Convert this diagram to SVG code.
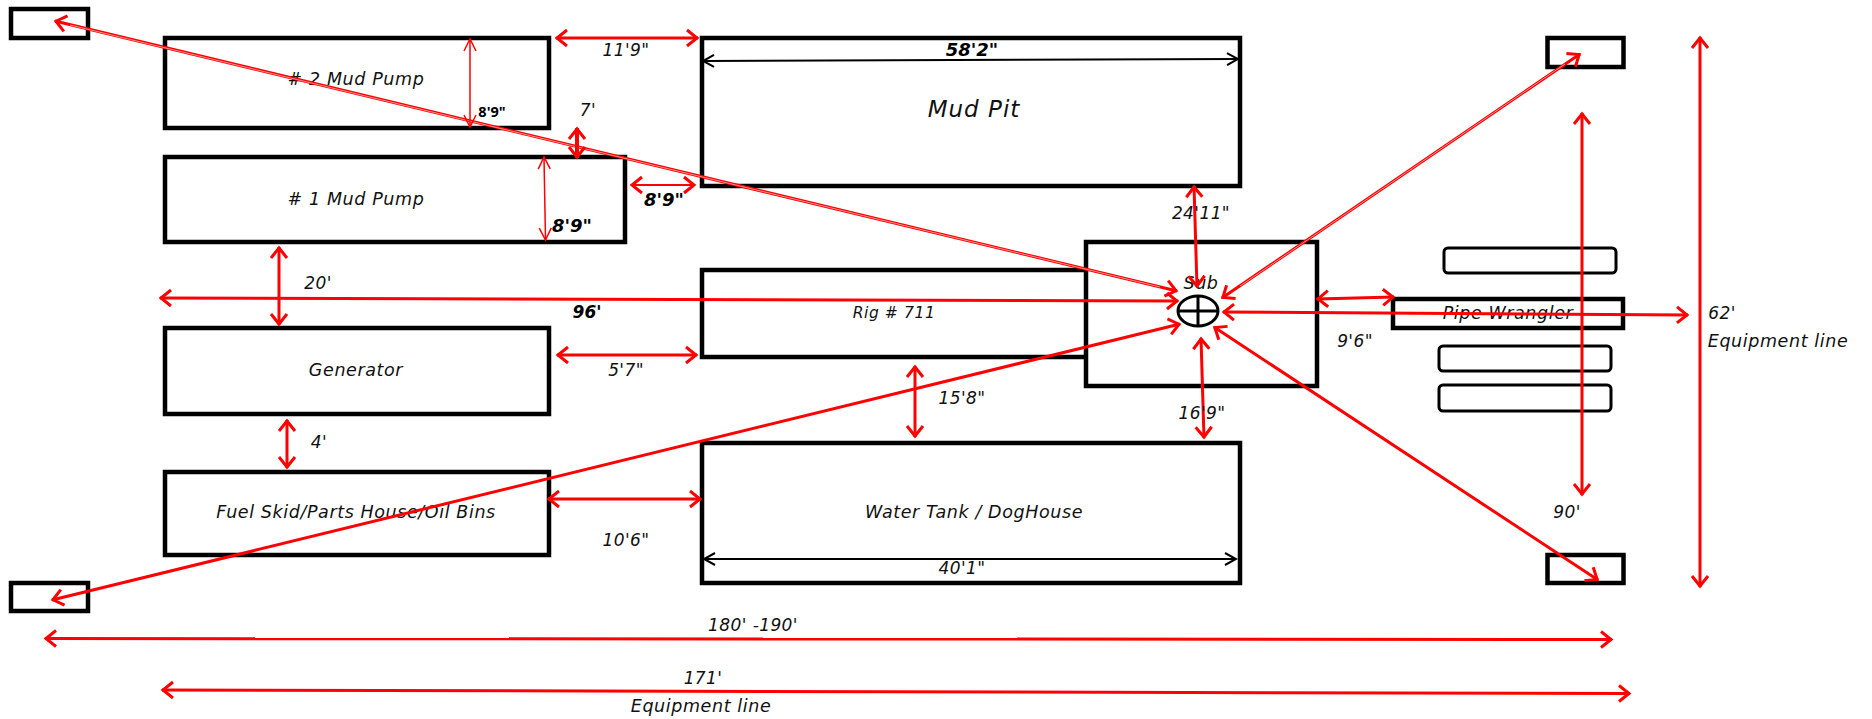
<svg xmlns="http://www.w3.org/2000/svg" width="1872" height="719" viewBox="0 0 1872 719">
<style>
.s{fill:none;stroke:#000;stroke-width:4.5}
.r{fill:none;stroke:#000;stroke-width:3}
.a{fill:none;stroke:#f00;stroke-width:3;marker-start:url(#m);marker-end:url(#m)}
.h{fill:none;stroke:#ff8c8c;stroke-width:1}
.t{fill:none;stroke:#f00;stroke-width:1.5;marker-start:url(#mt);marker-end:url(#mt)}
.k{fill:none;stroke:#000;stroke-width:2;marker-start:url(#mk);marker-end:url(#mk)}
text{font-family:"DejaVu Sans",Verdana,sans-serif;font-style:italic;font-weight:200;font-size:17.5px;letter-spacing:.6px;fill:#111;text-anchor:middle}
.d{font-size:17px;letter-spacing:.4px}
.bd{font-weight:bold;font-size:17px;letter-spacing:0;fill:#000}
.n{font-family:"Open Sans",sans-serif;font-style:normal;font-weight:bold;font-size:14.5px;letter-spacing:0;fill:#000}
</style>
<defs>
<marker id="m" viewBox="-14 -10 16 20" refX="0" refY="0" markerWidth="16" markerHeight="20" markerUnits="userSpaceOnUse" orient="auto-start-reverse"><path d="M-11-8L-1 0L-11 8" fill="none" stroke="#f00" stroke-width="3"/></marker>
<marker id="mt" viewBox="-14 -10 16 20" refX="0" refY="0" markerWidth="16" markerHeight="20" markerUnits="userSpaceOnUse" orient="auto-start-reverse"><path d="M-12-6L0 0L-12 6" fill="none" stroke="#f00" stroke-width="1.5"/></marker>
<marker id="mk" viewBox="-14 -10 16 20" refX="0" refY="0" markerWidth="16" markerHeight="20" markerUnits="userSpaceOnUse" orient="auto-start-reverse"><path d="M-11-6L0 0L-11 6" fill="none" stroke="#000" stroke-width="2"/></marker>
</defs>
<g id="anchor-top-left"><rect class="s" x="11" y="9" width="77" height="29"/></g>
<g id="anchor-top-right"><rect class="s" x="1547.500" y="38" width="76" height="29"/></g>
<g id="anchor-bottom-right"><rect class="s" x="1547.500" y="555" width="76" height="28"/></g>
<g id="anchor-bottom-left"><rect class="s" x="11" y="583" width="77" height="28"/></g>
<g id="mud-pump-2"><rect class="s" x="165" y="38" width="384" height="90"/><text x="356" y="85"># 2 Mud Pump</text></g>
<g id="mud-pump-1"><rect class="s" x="165" y="157" width="460" height="85"/><text x="356" y="205"># 1 Mud Pump</text></g>
<g id="generator"><rect class="s" x="165" y="328" width="384" height="86"/><text x="356" y="376">Generator</text></g>
<g id="fuel-skid"><rect class="s" x="165" y="472" width="384" height="83"/><text x="356" y="518">Fuel Skid/Parts House/Oil Bins</text></g>
<g id="mud-pit"><rect class="s" x="702" y="38" width="538" height="148"/><text x="974" y="117" style="font-size:23px;letter-spacing:1px">Mud Pit</text></g>
<g id="rig"><path class="s" d="M1086 270H702V357H1086"/><text x="894" y="318" style="font-size:15.500px">Rig # 711</text></g>
<g id="sub"><rect class="s" x="1086" y="242" width="231" height="144"/><text x="1201" y="289">Sub</text><ellipse class="r" cx="1198" cy="311" rx="20" ry="15"/><path class="r" d="M1178 311H1218M1198 296V326"/></g>
<g id="pipe-wrangler"><rect class="s" x="1393" y="299" width="230" height="29"/><text x="1508" y="319">Pipe Wrangler</text></g>
<g id="pipe-rack-1"><rect class="r" x="1444" y="248" width="172" height="25" rx="4"/></g>
<g id="pipe-rack-2"><rect class="r" x="1439" y="346" width="172" height="25" rx="4"/></g>
<g id="pipe-rack-3"><rect class="r" x="1439" y="385" width="172" height="26" rx="4"/></g>
<g id="water-tank"><rect class="s" x="702" y="443" width="538" height="140"/><text x="974" y="518">Water Tank / DogHouse</text></g>
<g id="connectors">
<path class="a" d="M55 21L1177 291"/>
<path class="h" d="M70 25L1160 287"/>
<path class="a" d="M160 298L1178 301"/>
<path class="a" d="M52 600L1180 324"/>
<path class="a" d="M1580 54L1222 298"/>
<path class="h" d="M1565 64L1240 286"/>
<path class="a" d="M1598 580L1214 327"/>
<path class="a" d="M1223 312L1688 315"/>
<path class="a" d="M1317 299L1394 297"/>
<path class="a" d="M1194 186L1197 287"/>
<path class="a" d="M1201 338L1204 438"/>
<path class="a" d="M1582 113V495"/>
<path class="a" d="M1700 37V587"/>
<path class="a" d="M45 638.500L1612 639.500"/>
<path class="a" d="M162 690L1630 693.500"/>
<path class="a" d="M556 38H698"/>
<path class="a" d="M577 128V158" style="stroke-width:4"/>
<path class="a" d="M631 185H695" style="stroke-width:2"/>
<path class="a" d="M279 247V325"/>
<path class="a" d="M557 355H697"/>
<path class="a" d="M915 366V437"/>
<path class="a" d="M287 420V468"/>
<path class="a" d="M548 499H701"/>
<path class="t" d="M470 39V127"/>
<path class="t" d="M544 157L545.500 240"/>
<path class="k" d="M703 61L1238 59"/>
<path class="k" d="M704 559H1236"/>
</g>
<g id="labels">
<text class="d" x="626" y="56">11'9"</text>
<text class="d" x="588" y="116">7'</text>
<text x="664" y="206" class="bd" style="font-size:18px">8'9"</text>
<text x="572" y="232" class="bd" style="font-size:18px">8'9"</text>
<text class="n" x="492" y="117">8'9"</text>
<text class="d" x="318" y="289">20'</text>
<text x="587" y="318" class="bd">96'</text>
<text class="d" x="626" y="376">5'7"</text>
<text class="d" x="319" y="448">4'</text>
<text class="d" x="626" y="546">10'6"</text>
<text class="d" x="962" y="404">15'8"</text>
<text class="d" x="1201" y="219">24'11"</text>
<text class="d" x="1355" y="347">9'6"</text>
<text class="d" x="1202" y="419">16'9"</text>
<text class="d" x="1722" y="319">62'</text>
<text x="1778" y="347">Equipment line</text>
<text class="d" x="1567" y="518">90'</text>
<text x="972" y="56" class="bd" style="font-size:18px">58'2"</text>
<text class="d" x="962" y="574">40'1"</text>
<text class="d" x="753" y="631">180' -190'</text>
<text class="d" x="703" y="684">171'</text>
<text x="701" y="712">Equipment line</text>
</g>
</svg>
